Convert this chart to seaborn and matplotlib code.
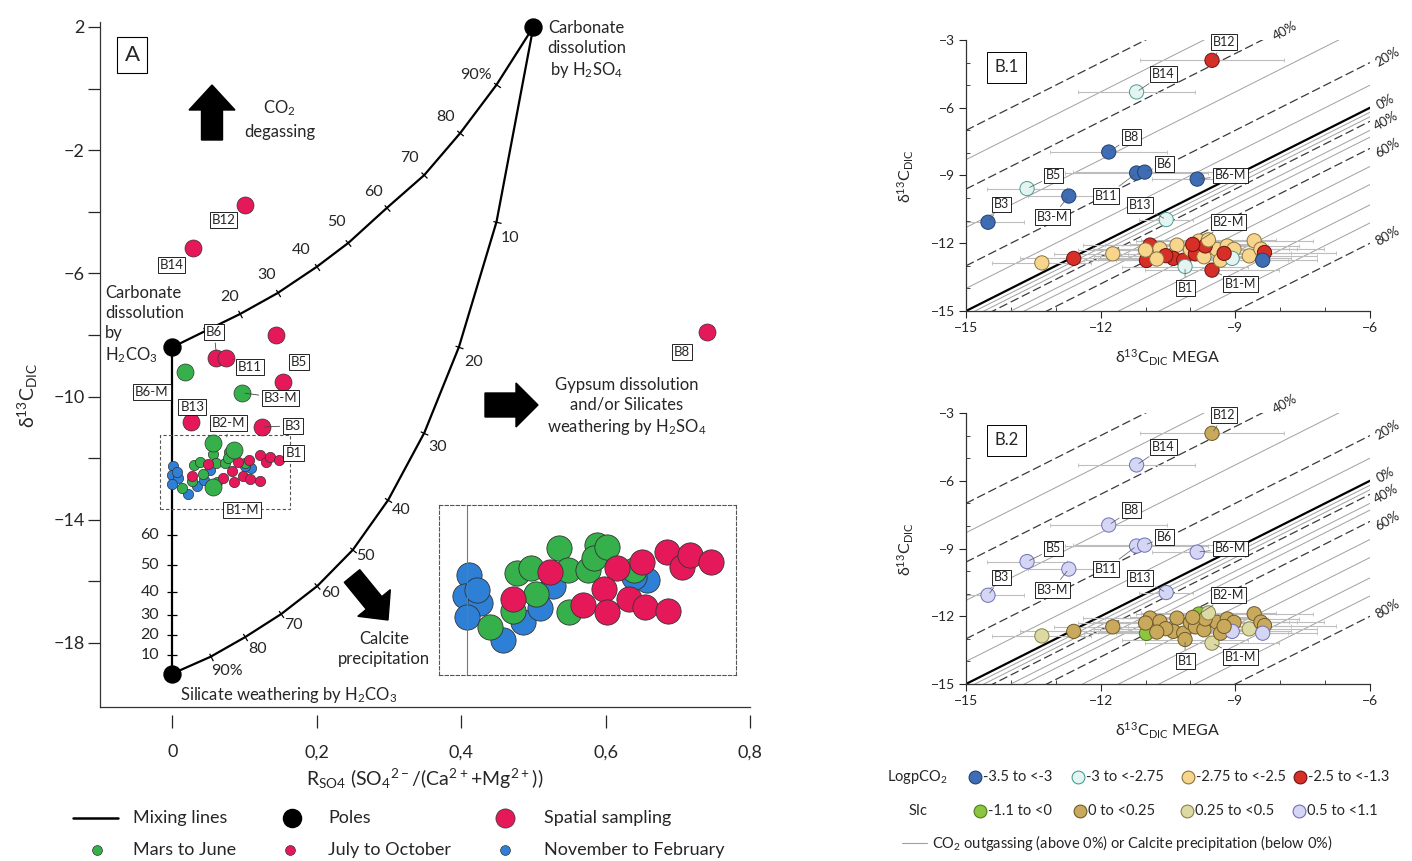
import numpy as np
import pandas as pd
import matplotlib
matplotlib.use("Agg")
import matplotlib.pyplot as plt
import seaborn as sns
from matplotlib.patches import FancyArrow, Rectangle

# ---------------- Panel A ----------------
pole_x = [0.0, 0.5, 0.0]
pole_y = [-8.4, 2.0, -19.0]

# mixing line carbonate/H2CO3 -> carbonate/H2SO4, one point every 10 %
upper_x = [0.0, 0.046, 0.094, 0.146, 0.2, 0.244, 0.297, 0.349, 0.399, 0.449, 0.5]
upper_y = [-8.4, -7.87, -7.32, -6.64, -5.79, -5.01, -3.88, -2.81, -1.44, 0.12, 2.0]
upper_lab = ["20", "30", "40", "50", "60", "70", "80", "90%"]
upper_lab_x = [0.079, 0.131, 0.178, 0.228, 0.279, 0.329, 0.379, 0.421]
upper_lab_y = [-6.77, -6.05, -5.24, -4.33, -3.36, -2.25, -0.92, 0.45]

# mixing line carbonate/H2SO4 -> silicate/H2CO3
lower_x = [0.5, 0.449, 0.397, 0.349, 0.299, 0.25, 0.201, 0.151, 0.101, 0.053, 0.0]
lower_y = [2.0, -4.33, -8.39, -11.18, -13.36, -14.98, -16.15, -17.06, -17.81, -18.45, -19.0]
lower_lab = ["10", "20", "30", "40", "50", "60", "70", "80", "90%"]
lower_lab_x = [0.467, 0.417, 0.368, 0.317, 0.268, 0.219, 0.168, 0.118, 0.076]
lower_lab_y = [-4.85, -8.88, -11.64, -13.68, -15.18, -16.38, -17.42, -18.2, -18.9]

# vertical mixing line (x = 0)
vert_x = [0.0, 0.0]
vert_y = [-8.4, -19.0]
vert_lab = ["60", "50", "40", "30", "20", "10"]
vert_lab_y = [-14.49, -15.47, -16.34, -17.09, -17.74, -18.39]

spatial_x = [0.101, 0.029, 0.74, 0.143, 0.061, 0.074, 0.153, 0.026, 0.124]
spatial_y = [-3.78, -5.18, -7.9, -8.0, -8.75, -8.75, -9.53, -10.82, -10.99]

mega_x = [0.017, 0.097, 0.057, 0.085, 0.057]
mega_y = [-9.2, -9.88, -11.51, -11.73, -12.94]

nov_feb_x = [0.001, -0.001, 0.008, 0.000, 0.006, 0.022, 0.034, 0.044, 0.052, 0.109, 0.101]
nov_feb_y = [-12.24, -12.54, -12.63, -12.83, -12.45, -13.16, -12.90, -12.70, -12.40, -12.31, -12.26]
mar_jun_x = [0.014, 0.030, 0.039, 0.042, 0.028, 0.056, 0.061, 0.062, 0.073, 0.079, 0.077, 0.085, 0.101]
mar_jun_y = [-12.97, -12.21, -12.14, -12.50, -12.74, -11.86, -12.17, -12.76, -12.17, -11.81, -12.00, -11.84, -12.17]
jul_oct_x = [0.028, 0.050, 0.091, 0.083, 0.070, 0.085, 0.098, 0.108, 0.106, 0.121, 0.122, 0.130, 0.135, 0.148]
jul_oct_y = [-12.57, -12.19, -12.14, -12.43, -12.66, -12.76, -12.57, -12.69, -12.05, -11.91, -12.74, -12.12, -11.96, -12.05]

a_lab = ["B12", "B14", "B8", "B6", "B11", "B5", "B6-M", "B13", "B3-M", "B2-M", "B3", "B1", "B1-M"]
a_lab_x = [0.071, -0.001, 0.706, 0.058, 0.108, 0.175, -0.028, 0.028, 0.15, 0.078, 0.167, 0.168, 0.097]
a_lab_y = [-4.27, -5.73, -8.55, -7.9, -9.04, -8.88, -9.85, -10.35, -10.05, -10.86, -10.95, -11.83, -13.68]
a_lead_x = [None, None, None, 0.061, 0.08, None, None, None, 0.097, 0.075, 0.124, None, None]
a_lead_y = [None, None, None, -8.6, -8.75, None, None, None, -9.88, -11.4, -10.99, None, None]

a_xticks = [0, 0.2, 0.4, 0.6, 0.8]
a_xticklabels = ["0", "0,2", "0,4", "0,6", "0,8"]
a_yticks = [2, -2, -6, -10, -14, -18]
a_yminor = [0, -4, -8, -12, -16]

# ---------------- Panel B ----------------
b_x = [-9.52, -11.20, -11.82, -11.20, -11.02, -9.85, -13.64, -12.71, -14.51, -10.54,
       -13.31, -12.60, -11.73, -10.90, -10.98, -10.68, -10.30, -10.38, -10.15, -10.00,
       -9.81, -9.89, -9.70, -9.52, -9.41, -9.67, -9.33, -9.18, -9.03, -8.58,
       -8.69, -8.43, -8.35, -8.39, -9.07, -10.12, -11.00, -10.55, -9.95, -9.60, -10.75, -9.25]
b_y = [-3.90, -5.30, -7.96, -8.89, -8.85, -9.16, -9.58, -9.91, -11.07, -10.95,
       -12.87, -12.67, -12.47, -12.08, -12.76, -12.24, -12.08, -12.67, -12.75, -12.28,
       -11.90, -12.47, -12.60, -13.19, -12.27, -12.12, -12.75, -12.12, -12.27, -11.89,
       -12.56, -12.26, -12.41, -12.75, -12.67, -13.03, -12.30, -12.55, -12.05, -11.85, -12.70, -12.45]
b_xerr = [1.6, 1.3, 1.3, 1.6, 1.6, 1.0, 0.9, 0.9, 0.8, 0.6,
          1.1, 1.2, 1.3, 1.5, 1.4, 1.5, 1.6, 1.4, 1.5, 1.6,
          1.4, 1.5, 1.3, 1.5, 1.6, 1.4, 1.5, 1.6, 1.4, 1.3,
          1.5, 1.4, 1.6, 1.2, 1.3, 1.4, 1.5, 1.6, 1.4, 1.5, 1.3, 1.5]
pco2_names = ["-3.5 to <-3", "-3 to <-2.75", "-2.75 to <-2.5", "-2.5 to <-1.3"]
b_pco2 = [3, 1, 0, 0, 0, 0, 1, 0, 0, 1,
          2, 3, 2, 3, 3, 2, 2, 3, 3, 2,
          2, 3, 2, 3, 2, 3, 2, 2, 2, 2,
          2, 2, 3, 0, 1, 1, 2, 3, 3, 2, 2, 3]
sic_names = ["-1.1 to <0", "0 to <0.25", "0.25 to <0.5", "0.5 to <1.1"]
b_sic = [1, 3, 3, 3, 3, 3, 3, 3, 3, 3,
         2, 1, 1, 1, 0, 1, 1, 1, 1, 1,
         0, 1, 1, 2, 1, 1, 1, 1, 1, 1,
         2, 1, 1, 3, 3, 1, 1, 1, 1, 2, 1, 1]

b_lab = ["B12", "B14", "B8", "B6", "B6-M", "B5", "B11", "B3", "B3-M", "B13", "B2-M", "B1", "B1-M"]
b_lab_x = [-9.25, -10.6, -11.32, -10.57, -9.1, -13.04, -11.88, -14.21, -13.08, -11.13, -9.15, -10.12, -8.88]
b_lab_y = [-3.1, -4.5, -7.29, -8.49, -9.0, -9.0, -9.91, -10.28, -10.83, -10.32, -11.07, -13.97, -13.82]
b_pt_x = [-9.52, -11.2, -11.82, -11.02, -9.85, -13.64, -11.2, -14.51, -12.71, -10.54, -9.81, -10.12, -9.52]
b_pt_y = [-3.9, -5.3, -7.96, -8.85, -9.16, -9.58, -8.89, -11.07, -9.91, -10.95, -11.9, -13.03, -13.19]

# offsets of the y = x + c guide lines
b_major_c = [8.0, 5.4, 2.0, -0.6, -1.8, -6.0]
b_minor_c = [6.7, 3.7, 1.0, -0.2, -0.4, -1.0, -1.3, -2.6, -3.4, -4.3, -5.1]
pct_lab = ["40%", "20%", "0%", "40%", "60%", "80%"]
pct_x = [-7.9, -5.6, -5.65, -5.65, -5.62, -5.6]
pct_y = [-2.6, -3.75, -5.75, -6.6, -7.8, -11.7]

red, green, blue = "#E5195A", "#35B04A", "#2D80D6"
pco2_fc = ["#3E6DB5", "#E4F4F1", "#F8D58C", "#D62F27"]
pco2_ec = ["#24406e", "#4a9e95", "#8a7440", "#6e1410"]
sic_fc = ["#8CC63F", "#C9A95C", "#DCD9A3", "#D5D5F4"]
sic_ec = ["#4d7a22", "#6e5a2a", "#86824c", "#6f6fb8"]

sns.set_style("ticks")
plt.rcParams["font.family"] = ["Lato", "DejaVu Sans"]
plt.rcParams["mathtext.default"] = "regular"

fig = plt.figure(figsize=(14.12, 8.61), dpi=100)
W, H = 1412, 861

# ======================= Panel A =======================
axA = fig.add_axes([100 / W, 1 - 707 / H, 650 / W, 685 / H])
axA.set_xlim(-0.1, 0.8)
axA.set_ylim(-20.08, 2.16)
sns.despine(ax=axA)

for xs, ys in [(vert_x, vert_y), (upper_x, upper_y), (lower_x, lower_y)]:
    sns.lineplot(x=xs, y=ys, sort=False, estimator=None, color="black", lw=1.6, ax=axA)


def curve_ticks(ax, xs, ys):
    pts = ax.transData.transform(np.column_stack([xs, ys]))
    for i in range(1, len(xs) - 1):
        dx, dy = pts[i + 1] - pts[i - 1]
        ang = np.degrees(np.arctan2(dy, dx))
        ax.plot(xs[i], ys[i], marker=(2, 0, ang), ms=6, mew=0.9, color="black")


curve_ticks(axA, upper_x, upper_y)
curve_ticks(axA, lower_x, lower_y)
axA.plot([0] * len(vert_lab_y), vert_lab_y, ls="none", marker="_", ms=7, mew=0.9, color="black")

for t, x, y in zip(upper_lab, upper_lab_x, upper_lab_y):
    axA.text(x, y, t, fontsize=11.5, ha="center", va="center")
for t, x, y in zip(lower_lab, lower_lab_x, lower_lab_y):
    axA.text(x, y, t, fontsize=11.5, ha="center", va="center")
for t, y in zip(vert_lab, vert_lab_y):
    axA.text(-0.031, y, t, fontsize=11.5, ha="center", va="center")

axA.add_patch(Rectangle((-0.017, -13.65), 0.18, 2.4, fill=False, ls=(0, (3, 2)),
                        lw=0.8, ec="#555555", zorder=2))

sns.scatterplot(x=nov_feb_x, y=nov_feb_y, color=blue, s=55, edgecolor="#333333", linewidth=0.5, ax=axA, zorder=3)
sns.scatterplot(x=mar_jun_x, y=mar_jun_y, color=green, s=55, edgecolor="#333333", linewidth=0.5, ax=axA, zorder=3)
sns.scatterplot(x=jul_oct_x, y=jul_oct_y, color=red, s=55, edgecolor="#333333", linewidth=0.5, ax=axA, zorder=3)
sns.scatterplot(x=mega_x, y=mega_y, color=green, s=150, edgecolor="#333333", linewidth=0.5, ax=axA, zorder=3)
sns.scatterplot(x=spatial_x, y=spatial_y, color=red, s=150, edgecolor="#333333", linewidth=0.5, ax=axA, zorder=3)
sns.scatterplot(x=pole_x, y=pole_y, color="black", s=150, edgecolor="black", ax=axA, zorder=4, clip_on=False)

box = dict(boxstyle="square,pad=0.15", fc="white", ec="black", lw=0.6)
for t, x, y, lx, ly in zip(a_lab, a_lab_x, a_lab_y, a_lead_x, a_lead_y):
    if lx is None:
        axA.text(x, y, t, fontsize=9.5, ha="center", va="center", bbox=box, zorder=5)
    else:
        axA.annotate(t, xy=(lx, ly), xytext=(x, y), fontsize=9.5, ha="center", va="center",
                     bbox=box, zorder=5, arrowprops=dict(arrowstyle="-", lw=0.6, color="#444444"))

axA.text(-0.0556, 1.09, "A", fontsize=16, ha="center", va="center",
         bbox=dict(boxstyle="square,pad=0.35", fc="white", ec="black", lw=0.8))
axA.text(0.149, -1.0, "CO$_2$\ndegassing", fontsize=12, ha="center", va="center", linespacing=1.5)
axA.text(-0.093, -6.38, "Carbonate\ndissolution\nby\nH$_2$CO$_3$", fontsize=12, ha="left", va="top",
         linespacing=1.3)
axA.text(0.574, 1.25, "Carbonate\ndissolution\nby H$_2$SO$_4$", fontsize=12, ha="center", va="center",
         linespacing=1.3)
axA.text(0.629, -10.34, "Gypsum dissolution\nand/or Silicates\nweathering by H$_2$SO$_4$", fontsize=12,
         ha="center", va="center", linespacing=1.3)
axA.text(0.293, -18.19, "Calcite\nprecipitation", fontsize=12, ha="center", va="center", linespacing=1.3)
axA.text(0.011, -19.69, "Silicate weathering by H$_2$CO$_3$", fontsize=12, ha="left", va="center")

axA.set_yticks(a_yticks)
axA.set_yticks(a_yminor, minor=True)
axA.tick_params(axis="y", which="both", direction="out", length=9, width=0.9, labelsize=13, pad=2)
axA.tick_params(axis="x", which="both", length=0, labelbottom=False)
sec = axA.secondary_xaxis(-0.012)
sec.spines["bottom"].set_visible(False)
sec.set_xticks(a_xticks)
sec.set_xticklabels(a_xticklabels)
sec.tick_params(direction="out", length=9, width=0.9, labelsize=13, pad=12)
axA.set_xlabel("R$_{SO4}$ (SO$_4$$^{2-}$/(Ca$^{2+}$+Mg$^{2+}$))", fontsize=14)
axA.xaxis.set_label_coords(0.5, -0.088)
axA.set_ylabel("δ$^{13}$C$_{DIC}$", fontsize=14)
axA.yaxis.set_label_coords(-0.092, 0.455)
for s in ["left", "bottom"]:
    axA.spines[s].set_linewidth(0.9)
    axA.spines[s].set_color("#333333")

# inset (zoom on the seasonal cluster)
axI = fig.add_axes([439 / W, 1 - 675 / H, 297 / W, 170 / H])
axI.set_xlim(-0.017, 0.163)
axI.set_ylim(-13.65, -11.25)
axI.axvline(0, color="#777777", lw=0.8)
sns.scatterplot(x=nov_feb_x, y=nov_feb_y, color=blue, s=330, edgecolor="#333333", linewidth=0.6, ax=axI)
sns.scatterplot(x=mar_jun_x, y=mar_jun_y, color=green, s=330, edgecolor="#333333", linewidth=0.6, ax=axI)
sns.scatterplot(x=jul_oct_x, y=jul_oct_y, color=red, s=330, edgecolor="#333333", linewidth=0.6, ax=axI)
axI.set_xticks([])
axI.set_yticks([])
axI.set_xlabel("")
axI.set_ylabel("")
for s in axI.spines.values():
    s.set_linestyle((0, (3, 2)))
    s.set_linewidth(0.8)
    s.set_edgecolor("#555555")


# ======================= Panels B.1 / B.2 =======================
def draw_b(ax, classes, fcs, ecs, tag):
    ax.set_xlim(-15, -6)
    ax.set_ylim(-15, -3)
    lx = np.array([-15.0, -6.0])
    for c in b_minor_c:
        ax.plot(lx, lx + c, color="#a0a0a0", lw=0.7, zorder=1)
    for c in b_major_c:
        ax.plot(lx, lx + c, color="#3a3a3a", lw=0.9, ls=(0, (7, 3)), zorder=1)
    ax.plot(lx, lx, color="black", lw=1.6, zorder=1)
    for t, x, y in zip(pct_lab, pct_x, pct_y):
        ax.text(x, y, t, fontsize=9.5, rotation=30, ha="center", va="center", clip_on=False)

    ax.errorbar(b_x, b_y, xerr=b_xerr, fmt="none", ecolor="#bdbdbd", elinewidth=0.8,
                capsize=1.5, capthick=0.6, zorder=2)
    df = pd.DataFrame({"x": b_x, "y": b_y, "cls": classes})
    sns.scatterplot(data=df, x="x", y="y", hue="cls", palette=dict(enumerate(fcs)), s=105,
                    linewidth=0.7, legend=False, ax=ax, zorder=3)
    ax.collections[-1].set_edgecolor([ecs[c] for c in classes])

    for t, x, y, px, py in zip(b_lab, b_lab_x, b_lab_y, b_pt_x, b_pt_y):
        ax.annotate(t, xy=(px, py), xytext=(x, y), fontsize=9, ha="center", va="center",
                    bbox=dict(boxstyle="square,pad=0.15", fc="white", ec="black", lw=0.6), zorder=5,
                    arrowprops=dict(arrowstyle="-", lw=0.5, color="#555555"))
    ax.text(0.1, 0.9, tag, transform=ax.transAxes, fontsize=12, ha="center", va="center",
            bbox=dict(boxstyle="square,pad=0.45", fc="white", ec="black", lw=0.7))

    sns.despine(ax=ax)
    ax.set_xticks([-15, -12, -9, -6])
    ax.set_xticks(np.arange(-15, -5), minor=True)
    ax.set_yticks([-3, -6, -9, -12, -15])
    ax.set_yticks(np.arange(-15, -2), minor=True)
    ax.tick_params(which="major", direction="out", length=5, width=0.8, labelsize=10, pad=3)
    ax.tick_params(which="minor", direction="in", length=3, width=0.6)
    ax.set_xlabel("δ$^{13}$C$_{DIC}$ MEGA", fontsize=11.5)
    ax.xaxis.set_label_coords(0.5, -0.135)
    ax.set_ylabel("δ$^{13}$C$_{DIC}$", fontsize=11.5)
    ax.yaxis.set_label_coords(-0.125, 0.5)
    for s in ["left", "bottom"]:
        ax.spines[s].set_linewidth(0.9)
        ax.spines[s].set_color("#333333")


axB1 = fig.add_axes([966 / W, 1 - 311 / H, 404 / W, 271 / H])
draw_b(axB1, b_pco2, pco2_fc, pco2_ec, "B.1")
axB2 = fig.add_axes([966 / W, 1 - 684 / H, 404 / W, 271 / H])
draw_b(axB2, b_sic, sic_fc, sic_ec, "B.2")

# ======================= overlay: arrows and legends =======================
ov = fig.add_axes([0, 0, 1, 1], zorder=10)
ov.set_xlim(0, W)
ov.set_ylim(H, 0)
ov.axis("off")
ov.patch.set_alpha(0)

ov.add_patch(FancyArrow(212, 140, 0, -55, width=21, head_width=46, head_length=25,
                        length_includes_head=True, color="black"))
ov.add_patch(FancyArrow(485, 405, 53, 0, width=24, head_width=44, head_length=22,
                        length_includes_head=True, color="black"))
ov.add_patch(FancyArrow(352, 576, 36, 44, width=20, head_width=42, head_length=22,
                        length_includes_head=True, color="black"))

# legend of panel A
ov.plot([73, 118], [818, 818], color="black", lw=1.8)
ov.text(133, 818, "Mixing lines", fontsize=13, va="center")
ov.scatter([292], [818], s=170, color="black")
ov.text(328, 818, "Poles", fontsize=13, va="center")
ov.scatter([505], [818], s=190, color=red, edgecolor="#333333", lw=0.5)
ov.text(544, 818, "Spatial sampling", fontsize=13, va="center")
ov.scatter([97], [850], s=50, color=green, edgecolor="#333333", lw=0.5)
ov.text(133, 850, "Mars to June", fontsize=13, va="center")
ov.scatter([290], [850], s=50, color=red, edgecolor="#333333", lw=0.5)
ov.text(328, 850, "July to October", fontsize=13, va="center")
ov.scatter([505], [850], s=50, color=blue, edgecolor="#333333", lw=0.5)
ov.text(544, 850, "November to February", fontsize=13, va="center")

# legend of panels B
ov.text(887, 777, "LogpCO$_2$", fontsize=10.5, va="center")
for mx, name, fc, ec in zip([975, 1078, 1188, 1300], pco2_names, pco2_fc, pco2_ec):
    ov.scatter([mx], [777], s=85, color=fc, edgecolor=ec, lw=0.8)
    ov.text(mx + 8, 777, name, fontsize=10.5, va="center")
ov.text(909, 811, "SIc", fontsize=10.5, va="center")
for mx, name, fc, ec in zip([980, 1080, 1187, 1299], sic_names, sic_fc, sic_ec):
    ov.scatter([mx], [811], s=85, color=fc, edgecolor=ec, lw=0.8)
    ov.text(mx + 8, 811, name, fontsize=10.5, va="center")
ov.plot([902, 927], [843, 843], color="#a0a0a0", lw=0.8)
ov.text(932, 843, "CO$_2$ outgassing (above 0%) or Calcite precipitation (below 0%)", fontsize=10.5,
        va="center")

fig.savefig("out.png", dpi=100)
